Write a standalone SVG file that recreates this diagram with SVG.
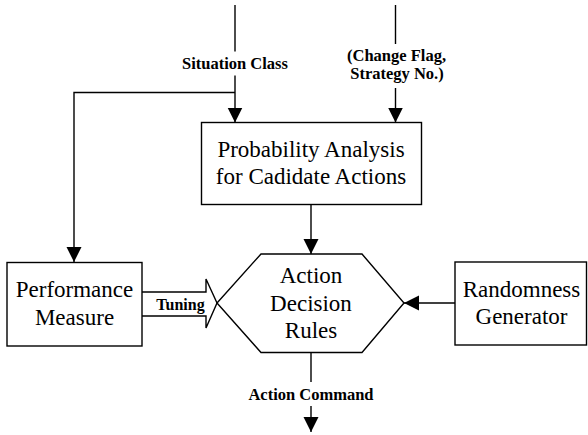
<svg xmlns="http://www.w3.org/2000/svg" width="588" height="435" viewBox="0 0 588 435">
<style>
  .box { fill: #fff; stroke: #000; stroke-width: 1.4; }
  .ln { fill: none; stroke: #000; stroke-width: 1.4; }
  .t { font-family: "Liberation Serif", "Times New Roman", serif; font-size: 23px; text-anchor: middle; fill: #000; }
  .lbl { font-family: "Liberation Serif", "Times New Roman", serif; font-size: 16.5px; font-weight: bold; text-anchor: middle; fill: #000; }
</style>
<defs>
  <marker id="arr" markerUnits="userSpaceOnUse" markerWidth="16" markerHeight="16" refX="15" refY="7.5" orient="auto">
    <path d="M0,0 L15,7.5 L0,15 z" fill="#000"/>
  </marker>
</defs>
<rect width="588" height="435" fill="#fff"/>
<g id="connectors">
  <path class="ln" d="M235,5 V51.5"/>
  <path class="ln" d="M235,75.5 V122.5" marker-end="url(#arr)"/>
  <path class="ln" d="M235,92.5 H74 V262" marker-end="url(#arr)"/>
  <path class="ln" d="M395.5,5 V44"/>
  <path class="ln" d="M395.5,88 V122.5" marker-end="url(#arr)"/>
  <path class="ln" d="M311,204.5 V254" marker-end="url(#arr)"/>
  <path class="ln" d="M311,352.5 V382"/>
  <path class="ln" d="M311,406 V432" marker-end="url(#arr)"/>
  <path class="ln" d="M455,303 H404" marker-end="url(#arr)"/>
  <path class="box" d="M142,292 H206 V279 L217,303 L206,328 V316 H142"/>
  <text class="lbl" x="235" y="69">Situation Class</text>
  <text class="lbl" x="396.5" y="60.5">(Change Flag,</text>
  <text class="lbl" x="397" y="79">Strategy No.)</text>
  <text class="lbl" x="180.5" y="309.5" style="font-size:16px">Tuning</text>
  <text class="lbl" x="311" y="400">Action Command</text>
</g>
<g id="probability">
  <rect class="box" x="201.5" y="122.5" width="220" height="82"/>
  <text class="t" x="311" y="157">Probability Analysis</text>
  <text class="t" x="311" y="184">for Cadidate Actions</text>
</g>
<g id="decision">
  <polygon class="box" points="261,254 362,254 404,303 362,352.5 261,352.5 217,303"/>
  <text class="t" x="311" y="282.5">Action</text>
  <text class="t" x="311" y="310.5">Decision</text>
  <text class="t" x="311" y="338">Rules</text>
</g>
<g id="performance">
  <rect class="box" x="7" y="262.5" width="135" height="83.5"/>
  <text class="t" x="74.5" y="297">Performance</text>
  <text class="t" x="74.5" y="325">Measure</text>
</g>
<g id="randomness">
  <rect class="box" x="455" y="262" width="131.5" height="83"/>
  <text class="t" x="521.5" y="297">Randomness</text>
  <text class="t" x="521.5" y="324">Generator</text>
</g>
</svg>
